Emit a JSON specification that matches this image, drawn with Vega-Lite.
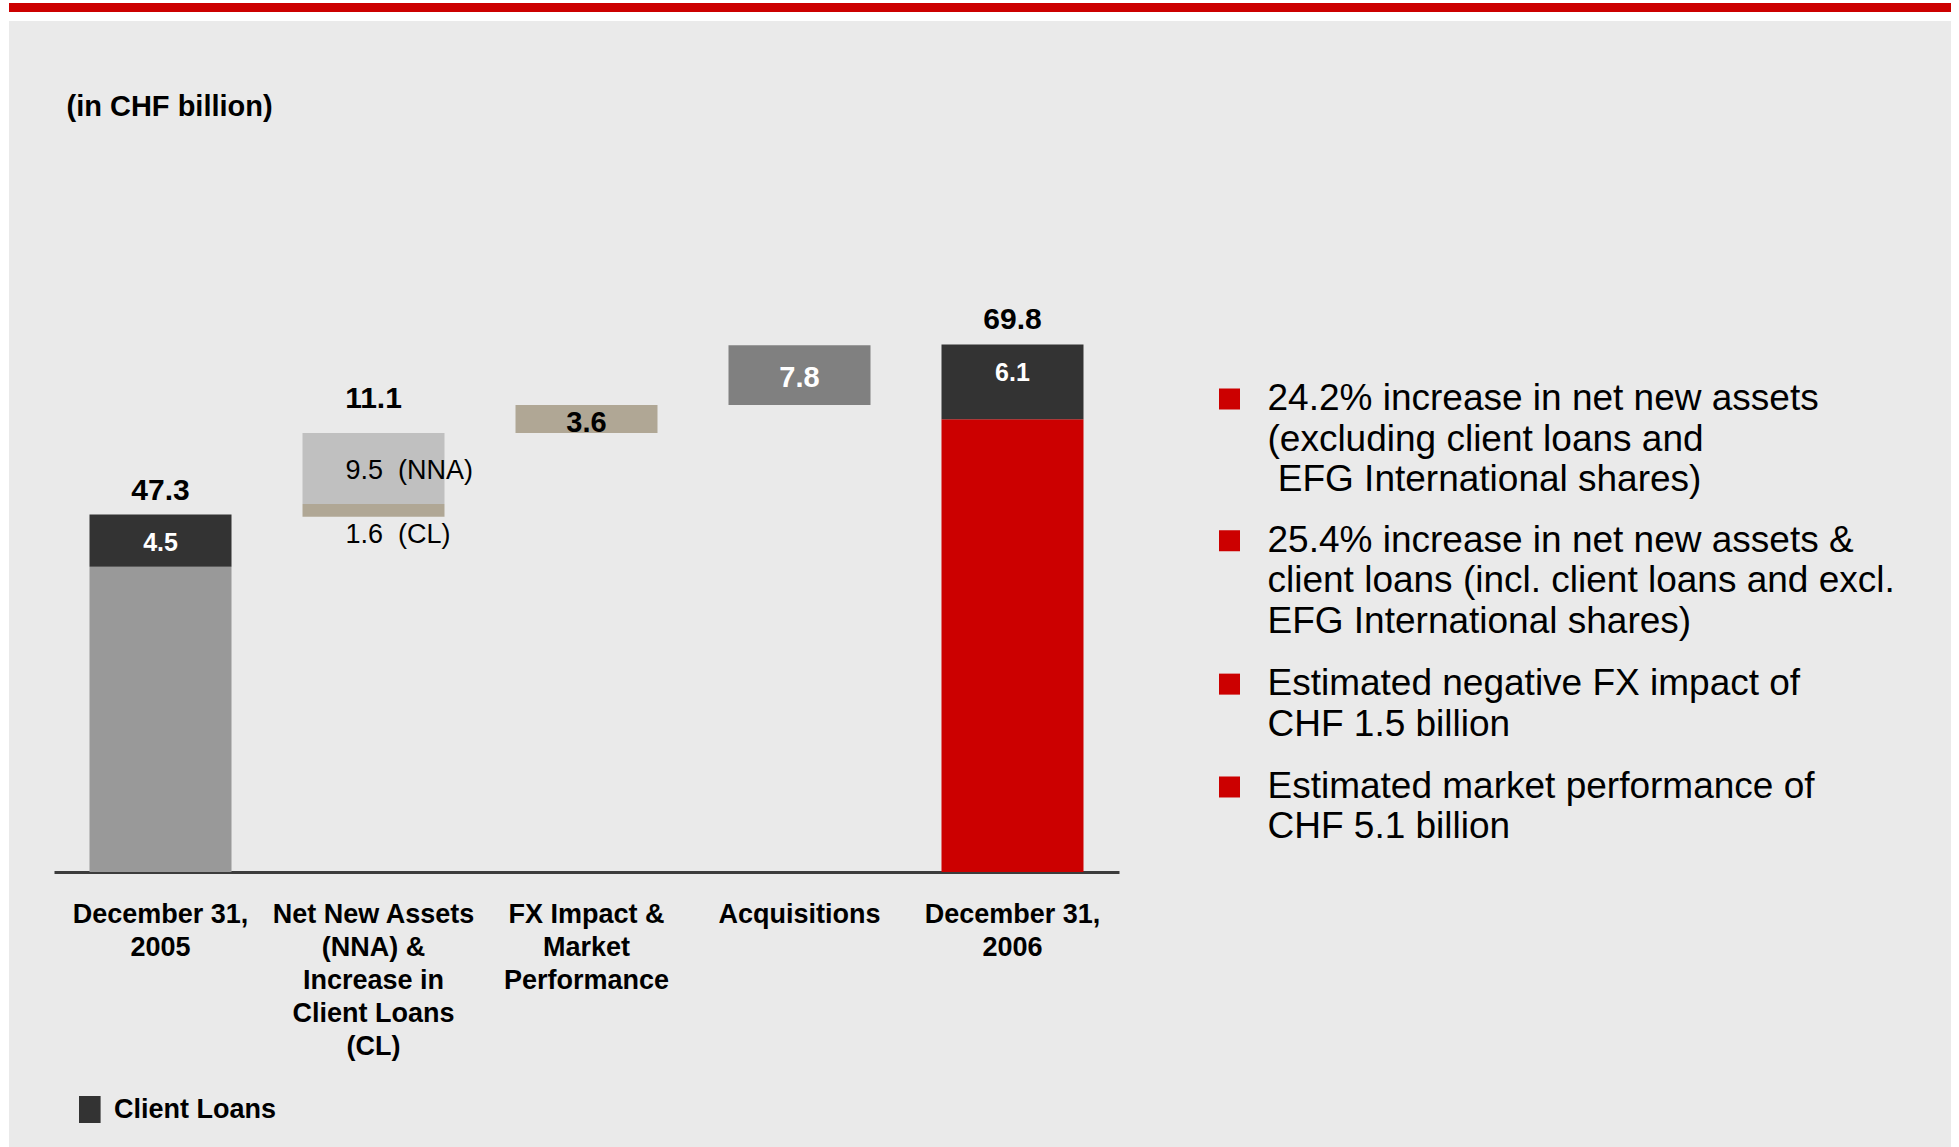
{
  "$schema": "https://vega.github.io/schema/vega-lite/v6.json",
  "width": 1942,
  "height": 1126,
  "autosize": {"type": "none"},
  "padding": {"left": 9, "top": 21, "right": 8, "bottom": 0},
  "background": "#ffffff",
  "config": {"font": "Liberation Sans", "view": {"fill": "#eaeaea", "stroke": null}},
  "datasets": {
    "bars": [
      {"cat": "December 31,|2005", "seg": "Assets 2005", "y0": 0, "y1": 40.4},
      {"cat": "December 31,|2005", "seg": "Client Loans", "y0": 40.4, "y1": 47.3},
      {"cat": "Net New Assets|(NNA) &|Increase in|Client Loans|(CL)", "seg": "CL", "y0": 47.0, "y1": 48.7},
      {"cat": "Net New Assets|(NNA) &|Increase in|Client Loans|(CL)", "seg": "NNA", "y0": 48.7, "y1": 58.1},
      {"cat": "FX Impact &|Market|Performance", "seg": "FX & Market", "y0": 58.1, "y1": 61.8},
      {"cat": "Acquisitions", "seg": "Acquisitions", "y0": 61.8, "y1": 69.7},
      {"cat": "December 31,|2006", "seg": "Assets 2006", "y0": 0, "y1": 59.9},
      {"cat": "December 31,|2006", "seg": "Client Loans", "y0": 59.9, "y1": 69.8}
    ],
    "labels": [
      {"cat": "December 31,|2005", "kind": "total", "y": 50.45, "text": "47.3"},
      {"cat": "Net New Assets|(NNA) &|Increase in|Client Loans|(CL)", "kind": "total", "y": 62.6, "text": "11.1"},
      {"cat": "December 31,|2006", "kind": "total", "y": 73.05, "text": "69.8"},
      {"cat": "December 31,|2005", "kind": "loans", "y": 43.47, "text": "4.5"},
      {"cat": "December 31,|2006", "kind": "loans", "y": 66.06, "text": "6.1"},
      {"cat": "Acquisitions", "kind": "acq", "y": 65.34, "text": "7.8"},
      {"cat": "FX Impact &|Market|Performance", "kind": "fx", "y": 59.36, "text": "3.6"},
      {"cat": "Net New Assets|(NNA) &|Increase in|Client Loans|(CL)", "kind": "part", "y": 53.0, "text": "9.5\u00a0 (NNA)"},
      {"cat": "Net New Assets|(NNA) &|Increase in|Client Loans|(CL)", "kind": "part", "y": 44.65, "text": "1.6\u00a0 (CL)"}
    ],
    "bullets": [
      {"item": 1, "lineNo": 1, "row": 0, "text": "24.2% increase in net new assets"},
      {"item": 1, "lineNo": 2, "row": 1, "text": "(excluding client loans and"},
      {"item": 1, "lineNo": 3, "row": 2, "text": "\u200b\u00a0EFG International shares)"},
      {"item": 2, "lineNo": 1, "row": 3.5, "text": "25.4% increase in net new assets &"},
      {"item": 2, "lineNo": 2, "row": 4.5, "text": "client loans (incl. client loans and excl."},
      {"item": 2, "lineNo": 3, "row": 5.5, "text": "EFG International shares)"},
      {"item": 3, "lineNo": 1, "row": 7.04, "text": "Estimated negative FX impact of"},
      {"item": 3, "lineNo": 2, "row": 8.04, "text": "CHF 1.5 billion"},
      {"item": 4, "lineNo": 1, "row": 9.58, "text": "Estimated market performance of"},
      {"item": 4, "lineNo": 2, "row": 10.58, "text": "CHF 5.1 billion"}
    ]
  },
  "layer": [
    {
      "layer": [
        {
          "data": {"name": "bars"},
          "mark": {"type": "bar"},
          "encoding": {
            "x": {
              "field": "cat", "type": "nominal",
              "scale": {
                "domain": ["December 31,|2005", "Net New Assets|(NNA) &|Increase in|Client Loans|(CL)", "FX Impact &|Market|Performance", "Acquisitions", "December 31,|2006"],
                "range": [45, 1110], "paddingInner": 0.3333, "paddingOuter": 0.1667
              },
              "axis": {
                "title": null, "orient": "bottom", "offset": -275, "ticks": false, "tickSize": 0,
                "domainColor": "#3c3c3c", "domainWidth": 3, "grid": false,
                "labelExpr": "split(datum.value, '|')", "labelFontSize": 27, "labelFontWeight": "bold",
                "labelColor": "#000000", "labelLineHeight": 33, "labelPadding": 29, "labelAngle": 0,
                "labelLimit": 400, "labelOverlap": false, "labelBound": false, "labelAlign": "center", "labelBaseline": "top"
              }
            },
            "y": {
              "field": "y0", "type": "quantitative",
              "scale": {"domain": [0, 112.6], "range": [851, 0], "nice": false, "zero": false},
              "axis": {
                "title": "(in CHF billion)", "domain": false, "ticks": false, "labels": false, "grid": false,
                "titleAngle": 0, "titleX": 57, "titleY": 85.6, "titleAlign": "left", "titleBaseline": "middle",
                "titleFontSize": 29, "titleFontWeight": "bold", "titleColor": "#000000"
              }
            },
            "y2": {"field": "y1"},
            "color": {
              "field": "seg", "type": "nominal",
              "scale": {
                "domain": ["Assets 2005", "Client Loans", "CL", "NNA", "FX & Market", "Acquisitions", "Assets 2006"],
                "range": ["#999999", "#333333", "#b0a795", "#c0c0c0", "#b0a795", "#808080", "#cc0000"]
              },
              "legend": {
                "values": ["Client Loans"], "title": null, "orient": "none", "legendX": 67.3, "legendY": 1075,
                "padding": 0, "symbolType": "M-0.8,-1H0.8V1H-0.8Z", "symbolSize": 729, "symbolStrokeWidth": 0,
                "symbolOpacity": 1, "labelFontSize": 27, "labelFontWeight": "bold", "labelColor": "#000000",
                "labelOffset": 10.7, "labelLimit": 400
              }
            }
          }
        },
        {
          "data": {"name": "labels"},
          "transform": [{"filter": "datum.kind == 'total'"}],
          "mark": {"type": "text", "fontSize": 30, "fontWeight": "bold", "color": "#000000", "baseline": "middle", "align": "center"},
          "encoding": {
            "x": {"field": "cat", "type": "nominal"},
            "y": {"field": "y", "type": "quantitative"},
            "text": {"field": "text", "type": "nominal"}
          }
        },
        {
          "data": {"name": "labels"},
          "transform": [{"filter": "datum.kind == 'loans'"}],
          "mark": {"type": "text", "fontSize": 25, "fontWeight": "bold", "color": "#ffffff", "baseline": "middle", "align": "center"},
          "encoding": {
            "x": {"field": "cat", "type": "nominal"},
            "y": {"field": "y", "type": "quantitative"},
            "text": {"field": "text", "type": "nominal"}
          }
        },
        {
          "data": {"name": "labels"},
          "transform": [{"filter": "datum.kind == 'acq' || datum.kind == 'fx'"}],
          "mark": {"type": "text", "fontSize": 29, "fontWeight": "bold", "baseline": "middle", "align": "center"},
          "encoding": {
            "x": {"field": "cat", "type": "nominal"},
            "y": {"field": "y", "type": "quantitative"},
            "text": {"field": "text", "type": "nominal"},
            "color": {"condition": {"test": "datum.kind == 'acq'", "value": "#ffffff"}, "value": "#000000"}
          }
        },
        {
          "data": {"name": "labels"},
          "transform": [{"filter": "datum.kind == 'part'"}],
          "mark": {"type": "text", "fontSize": 27, "color": "#000000", "baseline": "middle", "align": "left", "dx": -28},
          "encoding": {
            "x": {"field": "cat", "type": "nominal"},
            "y": {"field": "y", "type": "quantitative"},
            "text": {"field": "text", "type": "nominal"}
          }
        },
        {
          "data": {"values": [{}]},
          "mark": {"type": "rule", "color": "#cc0000", "strokeWidth": 9},
          "encoding": {"y": {"datum": 114.4, "type": "quantitative"}}
        }
      ]
    },
    {
      "layer": [
        {
          "data": {"name": "bullets"},
          "transform": [{"filter": "datum.lineNo == 1"}],
          "mark": {"type": "square", "size": 441, "color": "#cc0000", "opacity": 1, "filled": true},
          "encoding": {
            "x": {"datum": 0, "type": "quantitative", "scale": {"domain": [0, 1], "range": [1220.5, 1258.5]}, "axis": null},
            "y": {"field": "row", "type": "quantitative", "scale": {"domain": [0, 10], "range": [378, 783]}, "axis": null}
          }
        },
        {
          "data": {"name": "bullets"},
          "mark": {"type": "text", "fontSize": 37, "color": "#000000", "baseline": "middle", "align": "left"},
          "encoding": {
            "x": {"datum": 1, "type": "quantitative"},
            "y": {"field": "row", "type": "quantitative"},
            "text": {"field": "text", "type": "nominal"}
          }
        }
      ]
    }
  ],
  "resolve": {"scale": {"x": "independent", "y": "independent"}}
}
